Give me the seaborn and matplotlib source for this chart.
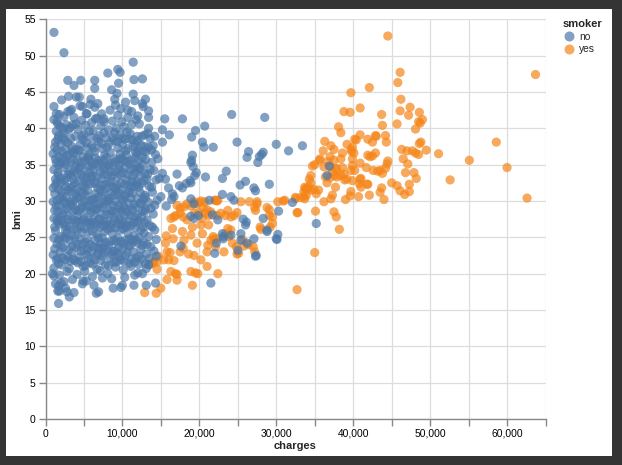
import matplotlib
matplotlib.use("Agg")
import matplotlib.pyplot as plt
from matplotlib.patches import Rectangle
from matplotlib.lines import Line2D
import seaborn as sns
import pandas as pd

# ---- data: (charges in thousands, bmi) ----
no_core = [
    (1.1,20.8),(1.2,23.4),(1.3,25.9),(1.1,27.6),(1.4,29.3),(1.2,31.0),(1.5,32.6),(1.1,34.3),(1.3,35.8),(1.2,37.4),
    (1.4,39.6),(1.1,41.2),(1.6,22.1),(1.7,24.7),(1.8,26.8),(1.6,28.5),(1.9,30.4),(1.7,33.5),(1.8,36.1),(1.6,38.5),
    (1.9,40.2),(1.7,34.9),(1.5,30.1),(1.9,27.8),(1.4,21.9),(1.8,19.8),(1.3,33.0),(1.6,40.6),(1.2,28.7),(1.9,35.2),
    (2.1,21.2),(2.3,23.6),(2.0,25.1),(2.4,26.9),(2.2,28.2),(2.6,29.7),(2.1,31.3),(2.5,32.8),(2.3,34.6),(2.8,36.2),
    (2.0,37.9),(2.4,39.3),(2.7,40.5),(2.9,22.4),(2.6,24.8),(2.9,27.5),(2.7,30.6),(2.9,33.7),(2.5,35.5),(2.2,38.8),
    (2.8,20.3),(2.3,30.0),(2.6,37.1),(2.0,33.1),(2.8,25.6),(2.4,41.6),
    (3.1,20.7),(3.4,22.9),(3.2,24.5),(3.7,26.1),(3.0,27.9),(3.5,29.4),(3.3,31.2),(3.8,32.5),(3.1,34.0),(3.6,35.7),
    (3.4,37.5),(3.9,38.9),(3.2,40.1),(3.8,21.8),(3.6,28.6),(3.9,30.9),(3.3,33.6),(3.7,36.6),(3.0,39.8),(3.5,23.8),
    (3.9,27.1),(3.2,29.9),(3.6,33.0),(3.4,42.6),
    (4.1,19.9),(4.4,22.3),(4.2,24.0),(4.7,25.7),(4.0,27.3),(4.5,28.9),(4.3,30.5),(4.8,32.1),(4.1,33.8),(4.6,35.3),
    (4.4,36.9),(4.9,38.4),(4.2,39.9),(4.7,41.1),(4.9,21.0),(4.6,26.5),(4.8,29.8),(4.3,34.5),(4.0,31.6),(4.5,37.8),
    (4.9,33.2),(4.2,28.0),(4.6,23.1),
    (5.1,20.3),(5.4,22.6),(5.2,24.3),(5.7,25.9),(5.0,27.6),(5.5,29.2),(5.3,30.8),(5.8,32.4),(5.1,34.2),(5.6,35.8),
    (5.4,37.3),(5.9,38.8),(5.2,40.4),(5.8,21.5),(5.6,27.0),(5.9,30.1),(5.3,33.1),(5.7,36.4),(5.0,39.2),(5.5,23.4),
    (5.9,28.4),(5.1,31.9),(5.6,34.8),
    (6.1,19.6),(6.4,21.9),(6.2,23.7),(6.7,25.4),(6.0,27.1),(6.5,28.8),(6.3,30.3),(6.8,31.8),(6.1,33.5),(6.6,35.1),
    (6.4,36.8),(6.9,38.2),(6.2,39.7),(6.7,41.4),(6.9,22.8),(6.6,26.6),(6.8,29.6),(6.3,34.4),(6.0,37.6),(6.5,32.6),
    (6.9,24.9),(6.2,29.0),(6.7,20.6),
    (7.1,20.4),(7.4,22.4),(7.2,24.2),(7.7,25.8),(7.0,27.5),(7.5,29.1),(7.3,30.7),(7.8,32.3),(7.1,34.0),(7.6,35.6),
    (7.4,37.2),(7.9,38.7),(7.2,40.3),(7.8,21.2),(7.6,27.2),(7.9,30.0),(7.3,33.0),(7.7,36.3),(7.0,39.0),(7.5,23.5),
    (7.9,28.2),(7.1,31.6),(7.6,34.7),(7.3,42.0),
    (8.1,20.0),(8.4,22.2),(8.2,23.9),(8.7,25.5),(8.0,27.2),(8.5,28.7),(8.3,30.4),(8.8,31.9),(8.1,33.6),(8.6,35.2),
    (8.4,36.7),(8.9,38.3),(8.2,39.8),(8.7,41.0),(8.9,21.6),(8.6,26.8),(8.8,29.4),(8.3,34.8),(8.0,37.4),(8.5,32.7),
    (8.9,24.6),(8.2,29.9),(8.6,19.3),
    (9.1,20.9),(9.4,22.7),(9.2,24.4),(9.7,26.0),(9.0,27.7),(9.5,29.3),(9.3,30.9),(9.8,32.5),(9.1,34.1),(9.6,35.7),
    (9.4,37.3),(9.9,38.6),(9.2,40.0),(9.8,21.9),(9.6,27.4),(9.9,30.2),(9.3,33.2),(9.7,36.5),(9.0,39.4),(9.5,23.6),
    (9.9,28.5),(9.1,31.8),(9.6,34.9),(9.4,41.8),
    (10.1,20.5),(10.4,22.5),(10.2,24.1),(10.7,25.6),(10.0,27.3),(10.5,28.9),(10.3,30.6),(10.8,32.2),(10.1,33.9),
    (10.6,35.4),(10.4,36.9),(10.9,38.5),(10.2,40.2),(10.7,41.5),(10.9,21.4),(10.6,26.7),(10.8,29.7),(10.3,34.6),
    (10.0,37.8),(10.5,32.9),(10.9,24.8),(10.2,29.2),(10.6,39.5),
    (11.1,21.0),(11.4,23.0),(11.2,24.7),(11.7,26.3),(11.0,28.0),(11.5,29.5),(11.3,31.1),(11.8,32.7),(11.1,34.3),
    (11.6,35.9),(11.4,37.5),(11.9,38.9),(11.2,40.5),(11.8,22.2),(11.6,27.8),(11.9,30.3),(11.3,33.4),(11.7,36.7),
    (11.0,39.3),(11.5,25.2),(11.9,34.8),(11.1,31.9),
    (12.1,21.3),(12.4,23.3),(12.2,25.0),(12.7,26.4),(12.0,28.1),(12.5,29.6),(12.3,31.2),(12.8,32.8),(12.1,34.4),
    (12.6,36.0),(12.4,37.7),(12.9,39.1),(12.2,40.6),(12.8,24.3),(12.6,28.6),(12.9,30.8),(12.3,33.5),(12.7,35.0),
    (12.0,38.3),(12.5,22.0),(12.9,27.0),(12.1,36.9),
    (13.1,22.7),(13.4,25.1),(13.2,27.4),(13.7,29.0),(13.0,30.5),(13.5,32.0),(13.3,33.7),(13.8,35.3),(13.1,36.8),
    (13.6,38.6),(13.4,40.0),(13.9,31.2),(14.1,34.2),(14.3,36.4),(14.0,28.2),(14.4,32.9),(14.2,38.9),(13.9,26.4),
    (14.5,30.1),(14.6,35.8),(14.8,33.1),
    (2.1,43.9),(2.9,42.3),(3.7,41.5),(4.5,43.1),(5.3,42.0),(6.0,40.8),(6.8,43.4),(7.6,40.9),(8.4,42.5),(9.1,43.2),
    (9.9,40.9),(10.4,43.6),(11.2,42.3),(12.0,41.7),(12.7,43.0),(13.4,42.4),(1.4,42.0),(3.0,44.4),(5.9,44.0),(11.8,41.2),
    (1.3,18.6),(1.8,17.6),(2.4,18.9),(3.5,19.2),(5.3,19.0),(6.3,18.4),(7.4,19.4),(8.8,18.0),(10.3,19.5),(11.6,19.8),
    (12.6,20.0),(13.6,21.3),
]

no_core2 = [
    (1.0,22.6),(1.5,24.1),(1.2,26.4),(1.6,27.1),(1.0,29.9),(1.7,31.6),(1.3,32.2),(1.6,33.9),(1.0,36.5),(1.5,37.0),
    (1.3,38.1),(1.7,39.0),(1.5,27.4),(1.9,23.0),(1.0,31.8),(1.4,35.3),(1.8,29.4),(1.1,24.9),(1.7,21.4),(1.5,40.9),
    (2.2,22.2),(2.6,21.9),(2.0,23.9),(2.4,25.0),(2.7,26.5),(2.1,27.3),(2.5,28.8),(2.8,29.0),(2.2,30.7),(2.6,32.0),
    (2.0,32.5),(2.8,33.2),(2.3,35.9),(2.7,35.0),(2.1,36.8),(2.5,38.3),(2.9,38.0),(2.3,40.0),(2.6,26.0),(2.9,31.5),
    (3.2,21.7),(3.6,22.0),(3.0,23.3),(3.4,25.3),(3.8,24.9),(3.1,26.5),(3.5,27.4),(3.9,28.8),(3.3,29.6),(3.7,30.0),
    (3.1,31.8),(3.5,32.0),(3.9,34.7),(3.3,35.2),(3.7,34.1),(3.1,36.4),(3.5,36.8),(3.9,37.1),(3.3,38.6),(3.6,40.5),
    (4.2,21.5),(4.6,21.7),(4.0,23.6),(4.4,24.8),(4.8,24.1),(4.1,26.0),(4.5,27.1),(4.9,27.4),(4.3,28.6),(4.7,29.2),
    (4.1,30.4),(4.5,31.3),(4.9,31.0),(4.3,32.7),(4.7,33.6),(4.1,35.7),(4.5,34.8),(4.9,36.1),(4.3,37.0),(4.7,38.9),
    (4.0,40.6),
    (5.2,21.1),(5.6,22.1),(5.0,23.2),(5.4,24.8),(5.8,24.0),(5.1,26.2),(5.5,27.3),(5.9,26.8),(5.3,28.6),(5.7,29.4),
    (5.1,30.0),(5.5,31.4),(5.9,33.4),(5.3,32.5),(5.7,33.8),(5.1,35.5),(5.5,36.1),(5.9,35.4),(5.3,38.0),(5.7,39.6),
    (6.2,21.3),(6.6,22.5),(6.0,23.0),(6.4,24.6),(6.8,23.6),(6.1,25.8),(6.5,26.9),(6.9,27.5),(6.3,28.0),(6.7,29.0),
    (6.1,30.1),(6.5,31.0),(6.9,30.6),(6.3,32.4),(6.7,33.3),(6.1,34.8),(6.5,35.9),(6.9,35.6),(6.3,37.3),(6.7,38.6),
    (7.2,21.8),(7.6,22.9),(7.0,23.5),(7.4,24.9),(7.8,24.3),(7.1,26.4),(7.5,26.6),(7.9,26.7),(7.3,28.3),(7.7,29.5),
    (7.1,29.6),(7.5,31.3),(7.9,31.7),(7.3,32.2),(7.7,33.6),(7.1,35.2),(7.5,34.3),(7.9,36.0),(7.3,37.9),(7.6,39.4),
    (8.2,21.1),(8.6,22.7),(8.0,23.3),(8.4,24.4),(8.8,23.1),(8.1,26.1),(8.5,26.3),(8.9,27.3),(8.3,28.2),(8.7,28.6),
    (8.1,30.3),(8.5,31.2),(8.9,30.8),(8.3,32.5),(8.7,33.5),(8.1,34.9),(8.5,34.0),(8.9,35.8),(8.3,37.9),(8.7,38.7),
    (9.2,21.6),(9.6,22.3),(9.0,23.1),(9.4,24.9),(9.8,24.4),(9.1,26.3),(9.5,26.9),(9.9,26.8),(9.3,28.4),(9.7,28.9),
    (9.1,29.9),(9.5,31.2),(9.9,31.5),(9.3,32.1),(9.7,33.7),(9.1,35.4),(9.5,34.4),(9.9,35.9),(9.3,38.2),(9.7,39.1),
    (10.2,21.7),(10.6,22.9),(10.0,23.4),(10.4,24.6),(10.8,23.8),(10.1,26.2),(10.5,26.4),(10.9,27.2),(10.3,28.0),
    (10.7,28.5),(10.1,30.1),(10.5,31.0),(10.9,31.2),(10.3,32.3),(10.7,33.6),(10.1,35.6),(10.5,36.3),(10.9,35.1),
    (10.3,38.5),(10.7,37.2),
    (11.2,22.0),(11.6,21.6),(11.0,23.8),(11.4,24.4),(11.8,24.6),(11.1,26.6),(11.5,27.0),(11.9,27.1),(11.3,28.8),
    (11.7,29.1),(11.1,30.4),(11.5,32.0),(11.9,32.3),(11.3,32.7),(11.7,33.9),(11.1,35.6),(11.5,34.5),(11.9,36.6),
    (11.3,38.4),(11.7,37.8),
    (12.2,22.4),(12.6,23.9),(12.0,24.2),(12.4,26.0),(12.8,25.6),(12.1,27.3),(12.5,27.8),(12.9,28.6),(12.3,29.7),
    (12.7,30.2),(12.1,31.9),(12.5,32.4),(12.9,33.8),(12.3,34.5),(12.7,36.8),(12.1,35.6),(12.5,38.9),(12.9,37.5),
    (13.2,24.0),(13.6,26.6),(13.0,28.9),(13.4,29.8),(13.8,31.9),(13.2,33.0),(13.6,34.3),(13.0,35.7),(13.4,37.4),
    (13.8,37.0),(14.2,29.4),(14.0,37.6),(13.3,39.3),
]

no_tail = [
    (1.1,53.2),(2.4,50.4),(2.9,46.6),(3.7,45.9),(4.6,46.6),(6.4,46.6),(6.4,45.5),(4.0,44.3),(4.4,44.3),(8.1,47.6),
    (9.4,48.1),(9.7,47.7),(11.4,49.1),(11.5,46.7),(12.6,46.8),(8.6,45.3),(9.5,46.2),(9.0,44.0),(9.3,44.8),(11.4,44.7),
    (11.6,43.8),(13.0,44.0),(12.6,43.4),(1.1,43.0),(1.8,41.9),(3.2,42.4),(4.8,43.0),(5.8,43.3),(6.4,42.9),(5.4,42.0),
    (6.5,41.3),(7.6,41.3),(9.8,42.7),(10.7,42.5),(13.4,41.5),
    (15.5,41.3),(17.8,41.3),(24.2,41.9),(28.5,41.5),(19.5,39.7),(20.7,40.3),(19.0,38.8),(16.1,39.1),(15.2,39.8),
    (15.2,38.1),(20.4,38.1),(20.6,37.4),(21.8,37.4),(24.9,38.1),(26.4,36.8),(26.2,36.0),(28.3,36.7),(28.1,36.4),
    (27.8,36.1),(27.6,35.3),(30.0,37.8),(31.6,36.9),(33.4,37.6),(19.1,36.3),(19.0,35.6),(18.9,35.3),(19.2,34.7),
    (19.4,33.5),(19.6,33.9),(20.8,33.3),(17.1,33.7),(15.2,33.8),(15.6,33.0),(16.0,31.8),(16.5,31.0),(16.7,30.6),
    (16.4,30.2),(15.7,29.3),(15.0,30.6),(18.3,32.4),(18.9,32.5),(17.8,31.8),(17.4,32.1),(18.8,32.8),(23.5,34.1),
    (23.0,33.1),(25.3,32.2),(26.0,32.7),(27.1,31.8),(27.3,31.4),(29.1,32.3),(23.0,30.9),(24.1,30.6),(24.5,30.1),
    (21.3,30.1),(18.9,30.3),(19.3,29.6),(32.1,29.8),(30.3,28.6),(25.7,27.5),(26.1,27.1),(26.0,26.7),(28.3,27.6),
    (28.8,26.0),(18.9,27.9),(19.9,28.0),(19.3,27.6),(21.7,28.1),(22.4,27.4),(25.4,25.5),(27.1,24.8),(30.2,25.4),
    (30.1,24.7),(23.1,25.1),(22.2,24.2),(22.0,22.8),(17.6,23.8),(27.4,22.5),(21.5,18.7),(14.2,26.0),(14.4,24.7),
    (13.7,23.7),(14.1,23.1),(14.4,22.4),(13.1,20.7),(13.0,21.4),(13.1,18.4),(14.3,18.7),(23.1,24.8),(23.0,25.5),
    (24.1,25.3),(25.0,23.2),(25.4,24.6),(26.2,24.2),(27.3,22.4),(28.8,25.8),(30.0,24.8),(36.9,34.8),(36.6,33.5),
    (35.2,26.9),(11.5,18.4),(12.0,20.1),(13.4,21.2),(13.5,22.1),
    (1.7,15.9),(1.6,17.6),(1.7,18.3),(2.0,18.7),(2.8,17.5),(2.6,18.0),(3.7,17.4),(3.1,16.8),(4.9,19.0),(4.8,18.6),
    (6.6,17.3),(6.9,17.5),(9.8,18.1),(10.0,18.4),(0.9,20.0),(1.1,19.7),
]

yes_pts = [
    (44.5,52.7),(63.7,47.4),(46.1,47.7),(45.8,46.3),(42.1,45.6),(39.7,44.9),(46.2,44.0),(46.1,42.4),(47.2,41.8),
    (47.4,42.9),(48.6,42.2),(48.5,40.9),(49.0,41.2),(48.7,40.7),(48.1,39.9),(45.7,40.6),(38.8,42.3),(39.6,42.2),
    (40.9,42.8),(43.7,41.9),(43.8,40.4),(38.1,40.2),(38.4,39.4),(40.9,39.1),(40.2,38.5),(41.9,38.5),(42.5,38.1),
    (42.9,39.0),(44.2,39.0),(44.3,38.1),(39.2,37.8),(39.9,37.4),(39.8,36.8),(36.3,38.2),(37.1,37.6),(37.5,37.1),
    (36.1,36.9),(58.6,38.1),(51.1,36.5),(55.1,35.6),(60.0,34.6),(52.6,32.9),(62.6,30.4),(46.3,37.1),(47.0,36.9),
    (47.7,36.9),(48.6,37.9),(48.8,38.1),(49.5,37.0),(48.1,36.6),(48.5,36.4),(46.5,35.8),(47.1,35.1),(46.8,33.9),
    (47.9,33.9),(44.5,35.5),(44.4,35.1),(44.2,34.5),(43.5,34.2),(42.6,34.2),(45.0,32.5),(45.7,32.1),(46.1,31.4),
    (46.7,30.9),(47.3,31.3),(47.3,32.3),(43.7,31.8),(43.5,31.2),(44.0,30.2),(42.1,30.8),(41.8,32.3),(40.7,30.6),
    (41.0,31.9),(40.9,33.0),(39.9,32.8),(38.9,32.9),(39.0,30.2),(39.6,30.7),(39.7,31.3),(37.3,30.8),(37.7,31.9),
    (38.4,33.5),(37.8,34.4),(37.6,33.5),(36.6,32.5),(37.0,33.2),(34.7,34.8),(34.5,33.5),(34.2,31.9),(33.8,31.7),
    (33.6,30.6),(35.2,31.0),(35.5,31.5),(35.1,28.6),(37.8,27.8),(38.2,26.1),
    (35.6,35.6),(37.0,36.1),(36.7,35.4),(37.5,35.6),(38.4,35.8),(38.6,36.6),(39.7,37.1),(40.1,36.6),(39.9,35.8),
    (40.4,38.4),(43.0,38.9),(34.3,33.0),(34.5,32.5),(33.7,31.9),(32.5,30.3),(33.7,30.3),(33.9,30.8),(34.5,31.5),
    (34.9,31.6),(36.2,34.7),(36.4,33.3),(37.0,34.7),(37.3,34.0),(37.8,34.5),(37.9,33.3),(38.6,34.6),(38.8,33.7),
    (39.2,33.0),(39.7,34.2),(39.9,34.9),(40.2,34.2),(40.9,35.2),(41.0,33.1),(41.7,34.6),(42.2,36.1),(42.5,36.2),
    (42.9,36.6),(41.9,36.3),(40.8,32.4),(41.9,32.3),(43.2,34.1),(43.8,33.8),(48.2,33.1),(37.5,28.5),(37.1,30.3),
    (36.2,29.9),(32.8,28.4),(35.0,35.0),(35.7,35.8),
    (22.3,30.0),(22.0,30.1),(23.7,28.7),(24.9,28.4),(25.4,29.9),(26.5,29.9),(27.5,29.9),(27.2,29.1),(28.8,29.1),
    (29.1,28.0),(29.5,27.8),(27.9,26.4),(28.0,26.1),(30.2,29.9),(30.9,30.0),(31.1,30.1),(32.5,30.5),(33.2,30.5),
    (33.6,31.3),(34.0,31.7),(32.7,28.4),(29.5,26.9),(29.2,26.4),(27.3,28.7),(27.5,29.6),(29.1,28.8),(20.0,29.8),
    (20.7,29.9),(22.1,30.1),(22.4,30.1),
    (17.1,29.4),(17.5,29.0),(18.0,29.2),(18.4,29.6),(18.9,29.3),(19.3,29.9),(19.7,29.6),(20.2,30.0),(20.5,29.1),
    (21.0,28.8),(21.5,28.5),(17.5,28.3),(16.9,28.0),(16.3,27.6),(16.7,27.8),(17.9,27.8),(18.4,27.4),(19.4,28.3),
    (19.9,28.4),(20.8,28.3),(20.4,27.6),(21.2,28.0),(22.3,28.0),(22.8,28.3),(23.4,28.0),(24.1,27.8),(24.5,28.0),
    (16.5,26.2),(15.7,25.2),(15.6,24.2),(15.8,23.0),(16.2,22.9),(16.7,21.8),(16.0,21.9),(15.4,21.9),(14.7,22.4),
    (14.5,21.6),(14.1,21.6),(13.9,21.4),(14.5,20.6),(16.6,24.8),(17.8,25.8),(18.0,24.6),(17.9,23.5),(18.9,25.3),
    (19.1,26.4),(20.2,26.7),(20.4,25.5),(21.2,26.7),(21.5,24.6),(21.8,25.1),(22.1,23.7),(21.0,23.0),(20.2,21.9),
    (19.3,22.5),(18.6,22.7),(17.5,23.0),(19.7,24.2),(22.3,24.8),(23.7,26.2),(24.1,26.0),(24.3,24.2),(24.8,23.7),
    (25.1,22.8),(26.4,24.0),(27.0,23.7),(25.6,24.7),(23.4,25.5),(23.8,25.1),
    (16.3,20.3),(16.9,20.0),(17.1,19.1),(15.8,19.2),(18.9,20.3),(19.5,20.1),(19.8,20.0),(21.0,21.0),(22.4,20.0),
    (19.1,18.4),(12.9,17.4),(32.7,17.8),(35.0,22.9),(14.4,17.3),(15.0,18.0),(17.1,19.9),(21.1,23.9),(21.9,24.8),
    (23.2,23.0),(24.9,22.7),(25.8,23.8),(27.2,23.0),
]

smoker_levels = ["no", "yes"]
smoker_colors = ["#4c78a8", "#f58518"]
x_ticks = list(range(0, 65001, 5000))
x_labels = ["{:,}".format(v) if v % 10000 == 0 else "" for v in x_ticks]
y_ticks = list(range(0, 56, 5))

# ---- build table (drawing order: dense non-smokers, smokers, sparse non-smokers) ----
groups = [(no_core, "no"), (no_core2, "no"), (yes_pts, "yes"), (no_tail, "no")]
rows = []
for pts, lab in groups:
    for c, b in pts:
        rows.append({"charges": c * 1000.0, "bmi": b, "smoker": lab})
df = pd.DataFrame(rows)

sns.set_style("white")
plt.rcParams["font.family"] = ["Liberation Sans", "DejaVu Sans"]

W, H = 622, 465
fig = plt.figure(figsize=(W / 100, H / 100), dpi=100, facecolor="#343434")
fig.patches.append(Rectangle((6 / W, 9 / H), 606 / W, 447 / H, transform=fig.transFigure,
                             facecolor="white", edgecolor="none", zorder=-10))

ax = fig.add_axes([45.5 / W, (H - 419) / H, 500 / W, 399.7 / H])
ax.set_facecolor("white")
ax.set_zorder(1)

palette = dict(zip(smoker_levels, smoker_colors))
sns.scatterplot(data=df, x="charges", y="bmi", hue="smoker", hue_order=smoker_levels,
                palette=palette, s=44, alpha=0.7, linewidth=0, ax=ax, legend=False, zorder=3)

ax.set_xlim(0, 65000)
ax.set_ylim(0, 55)
ax.set_xticks(x_ticks)
ax.set_xticklabels(x_labels)
ax.set_yticks(y_ticks)
ax.grid(True, color="#dddddd", linewidth=0.9, zorder=0)
ax.set_axisbelow(True)
for side in ["top", "right"]:
    ax.spines[side].set_visible(False)
for side in ["left", "bottom"]:
    ax.spines[side].set_color("#888888")
    ax.spines[side].set_linewidth(1)
ax.tick_params(axis="both", length=5, width=1, color="#888888", labelsize=7.4,
               labelcolor="black", pad=2, direction="out", left=True, bottom=True)

ax.set_xlabel("charges", fontsize=8, fontweight="bold")
ax.set_ylabel("bmi", fontsize=8, fontweight="bold")
ax.xaxis.set_label_coords(0.5, -(446 - 419) / 399.7)
ax.xaxis.label.set_va("center")
ax.yaxis.set_label_coords((17 - 45.5) / 500, 0.5)
ax.yaxis.label.set_va("center")

handles = [Line2D([0], [0], marker="o", linestyle="none", markersize=7.2,
                  markerfacecolor=c, markeredgewidth=0, alpha=0.7) for c in smoker_colors]
leg = fig.legend(handles, smoker_levels, loc="upper left", bbox_to_anchor=(563 / W, 1 - 19 / H),
                 frameon=False, title="smoker", fontsize=7.4, title_fontsize=8,
                 handletextpad=0.4, labelspacing=0.25, borderpad=0, borderaxespad=0,
                 handlelength=1.2)
leg.get_title().set_fontweight("bold")
leg._legend_box.align = "left"

fig.savefig("out.png", dpi=100, facecolor=fig.get_facecolor())
